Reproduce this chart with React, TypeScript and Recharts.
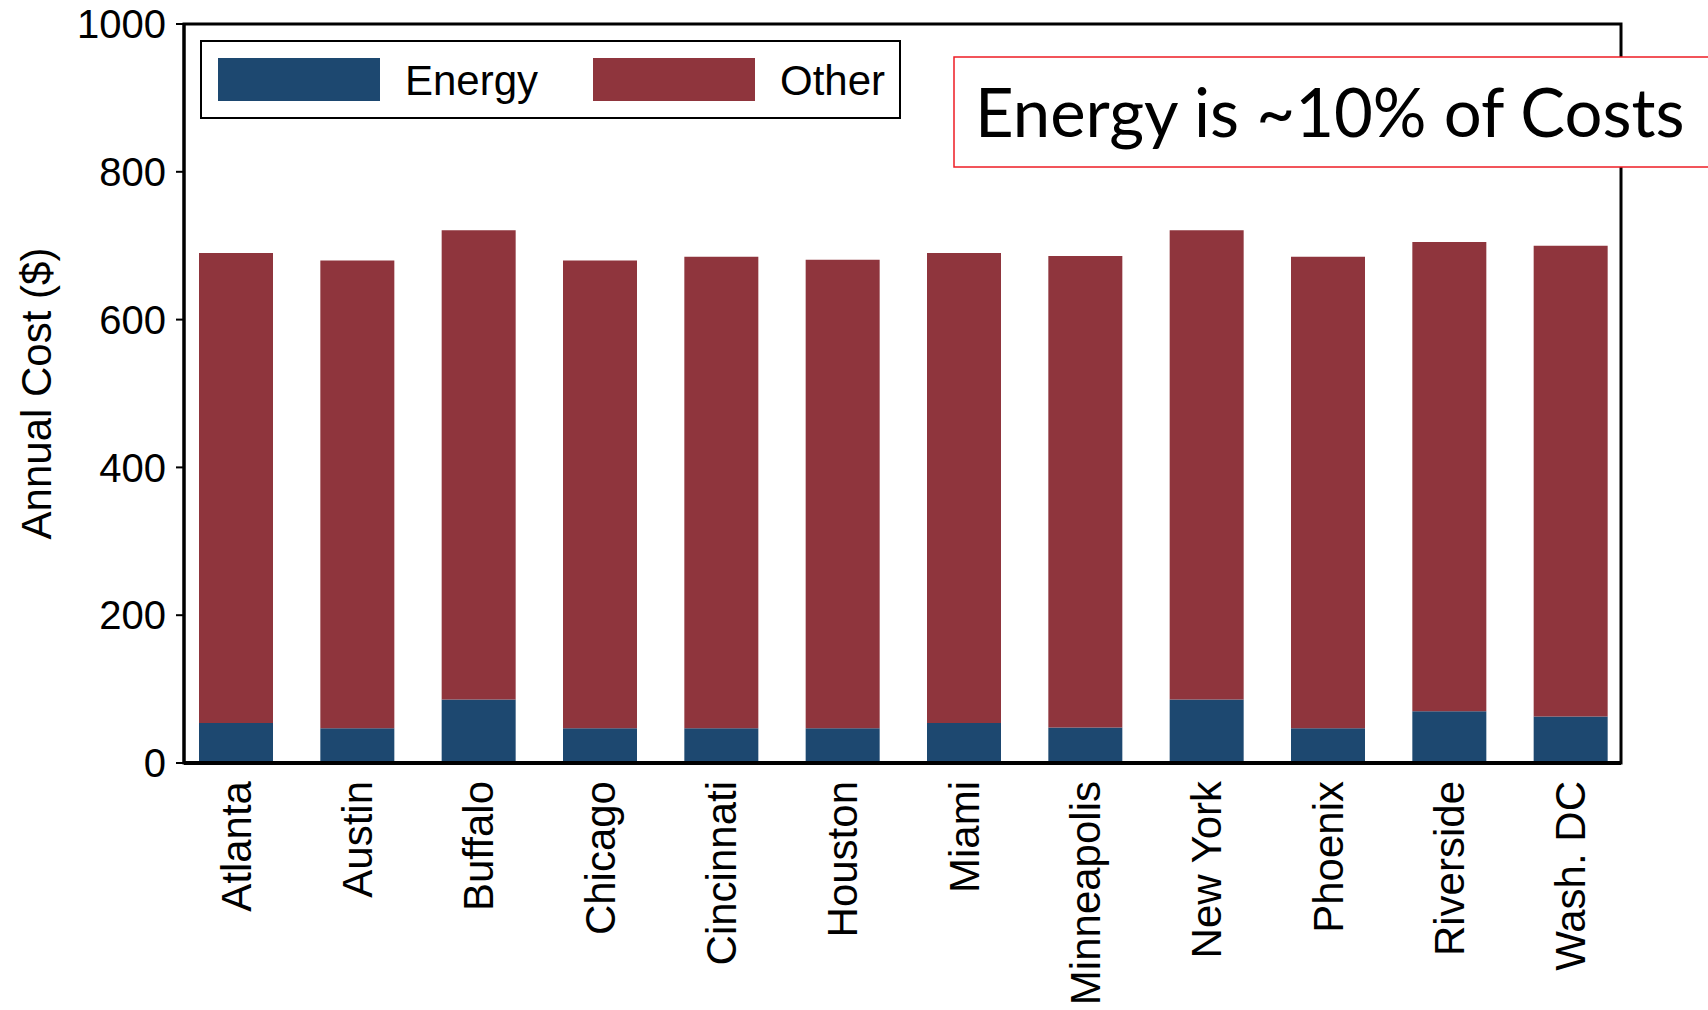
import { BarChart, Bar, XAxis, YAxis, Legend, usePlotArea } from 'recharts'

const cities = ['Atlanta', 'Austin', 'Buffalo', 'Chicago', 'Cincinnati', 'Houston', 'Miami', 'Minneapolis', 'New York', 'Phoenix', 'Riverside', 'Wash. DC']
const energyCost = [54, 47, 86, 47, 47, 47, 54, 48, 86, 47, 70, 63]
const otherCost = [636, 633, 635, 633, 638, 634, 636, 638, 635, 638, 635, 637]
const costTicks = [0, 200, 400, 600, 800, 1000]

const data = cities.map((city, i) => ({ city, energy: energyCost[i], other: otherCost[i] }))

const ARIAL = 'Arial, "Liberation Sans", sans-serif'
const BLUE = '#1d4870'
const RED = '#8f353d'

// rotated city names hanging under each bar
const CityTick = ({ x, y, payload }: any) => {
  const top = y + 16
  return (
    <text
      x={x}
      y={top}
      dy={15}
      transform={`rotate(-90 ${x} ${top})`}
      textAnchor="end"
      fill="#000"
      fontSize={42}
      fontFamily={ARIAL}
    >
      {payload.value}
    </text>
  )
}

const AxisTitle = ({ viewBox }: any) => {
  const cy = viewBox.y + viewBox.height / 2
  return (
    <text x={51} y={cy} transform={`rotate(-90 51 ${cy})`} textAnchor="middle" fill="#000" fontSize={42} fontFamily={ARIAL}>
      Annual Cost ($)
    </text>
  )
}

// closes the plot box on the top and right
const Frame = () => {
  const area = usePlotArea()
  if (!area) return null
  return (
    <rect x={area.x} y={area.y} width={area.width} height={area.height} fill="none" stroke="#000" strokeWidth={3} />
  )
}

const LegendBox = ({ payload }: any) => {
  const items = payload ?? []
  return (
    <svg width={701} height={79} style={{ display: 'block' }}>
      <rect x={1} y={1} width={699} height={77} fill="#fff" stroke="#000" strokeWidth={2} />
      {items.map((item: any, i: number) => {
        const left = 18 + i * 375
        return (
          <g key={item.value}>
            <rect x={left} y={18} width={162} height={43} fill={item.color} />
            <text x={left + 187} y={55} fontSize={42} fontFamily={ARIAL} fill="#000">
              {item.value}
            </text>
          </g>
        )
      })}
    </svg>
  )
}

export default function App() {
  return (
    <div style={{ position: 'absolute', left: 0, top: 0, width: 1708, height: 1010, overflow: 'hidden', background: '#fff' }}>
      <BarChart width={1708} height={1010} data={data} margin={{ top: 24, right: 87, bottom: 47, left: 0 }}>
        <Bar dataKey="energy" name="Energy" stackId="cost" fill={BLUE} barSize={74} isAnimationActive={false} />
        <Bar dataKey="other" name="Other" stackId="cost" fill={RED} barSize={74} isAnimationActive={false} />
        <Frame />
        <XAxis
          dataKey="city"
          height={200}
          interval={0}
          padding={{ left: -9, right: -10 }}
          axisLine={{ stroke: '#000', strokeWidth: 4 }}
          tickLine={false}
          tickSize={0}
          tick={<CityTick />}
        />
        <YAxis
          width={184}
          domain={[0, 1000]}
          ticks={costTicks}
          interval={0}
          axisLine={{ stroke: '#000', strokeWidth: 3 }}
          tickLine={{ stroke: '#000', strokeWidth: 2 }}
          tickSize={8}
          tickMargin={10}
          tick={{ fill: '#000', fontSize: 40, fontFamily: ARIAL }}
          label={<AxisTitle />}
        />
        <Legend
          layout="horizontal"
          verticalAlign="middle"
          align="center"
          content={<LegendBox />}
          wrapperStyle={{ left: 200, top: 40, width: 701, height: 79 }}
        />
      </BarChart>
      <svg width={760} height={112} style={{ position: 'absolute', left: 953, top: 56 }}>
        <rect x={1} y={1} width={800} height={110} fill="#fff" stroke="#ee1c25" strokeWidth={1.5} />
        <text x={22} y={81} fontSize={67} fontFamily='Lato, "Open Sans", sans-serif' fill="#000">
          Energy is ~10% of Costs
        </text>
      </svg>
    </div>
  )
}
